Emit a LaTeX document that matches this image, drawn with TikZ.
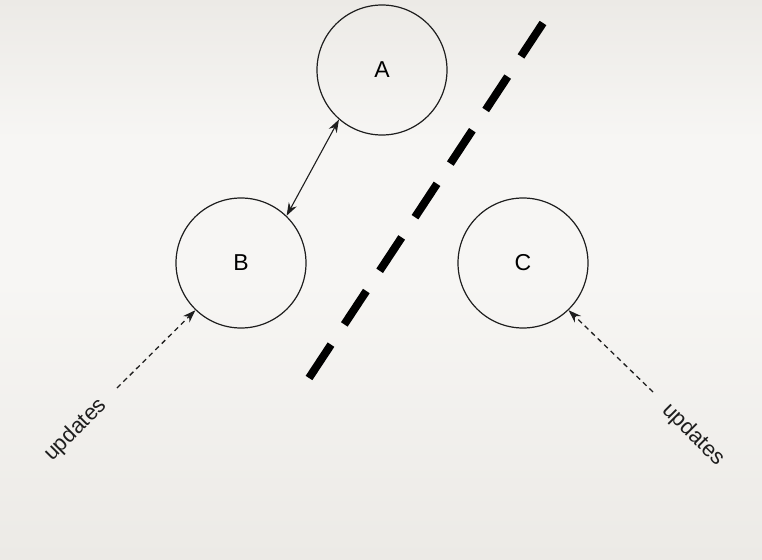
\documentclass[tikz,border=0pt]{standalone}
\usepackage{fontspec}
\setmainfont{Liberation Sans}
\usetikzlibrary{arrows.meta}
\definecolor{paperedge}{RGB}{236,234,230}
\definecolor{papermid}{RGB}{247,246,244}
\definecolor{inkgray}{RGB}{30,30,30}
\tikzset{
	site/.style={draw=inkgray, line width=1.2pt, circle, minimum size=130pt, inner sep=0pt, font=\fontsize{23}{27}\selectfont},
	link/.style={draw=inkgray, line width=1.1pt, {Stealth[length=13pt,width=9pt]}-{Stealth[length=13pt,width=9pt]}},
	feed/.style={draw=inkgray, line width=1.3pt, dash pattern=on 5pt off 4pt, -{Stealth[length=13pt,width=9pt]}},
	tag/.style={font=\fontsize{22}{26}\selectfont, text=inkgray},
}
\begin{document}
\begin{tikzpicture}[x=1pt, y=-1pt]
				\useasboundingbox (0,0) rectangle (762,559);
				\shade[top color=paperedge, bottom color=papermid, middle color=papermid] (0,0) rectangle (762,279.5);
				\shade[top color=papermid, bottom color=paperedge] (0,279.5) rectangle (762,559);
				\node[site] (A) at (382,70) {A};
				\node[site] (B) at (241,263) {B};
				\node[site] (C) at (523,263) {C};
				\coordinate (splittop) at (543,23);
				\coordinate (splitbottom) at (309,378);
				\draw[line width=8pt, dash pattern=on 40pt off 24.2pt] (splittop) -- (splitbottom);
				\draw[link] (B.46) -- (A.229);
				\coordinate (leftfeed) at (117,388);
				\coordinate (rightfeed) at (653,392);
				\draw[feed] (leftfeed) -- (B.226);
				\draw[feed] (rightfeed) -- (C.314);
				\node[tag, rotate=45] (leftupd) at (76,430) {updates};
				\node[tag, rotate=-45] (rightupd) at (693,435) {updates};
			\end{tikzpicture}
\end{document}
